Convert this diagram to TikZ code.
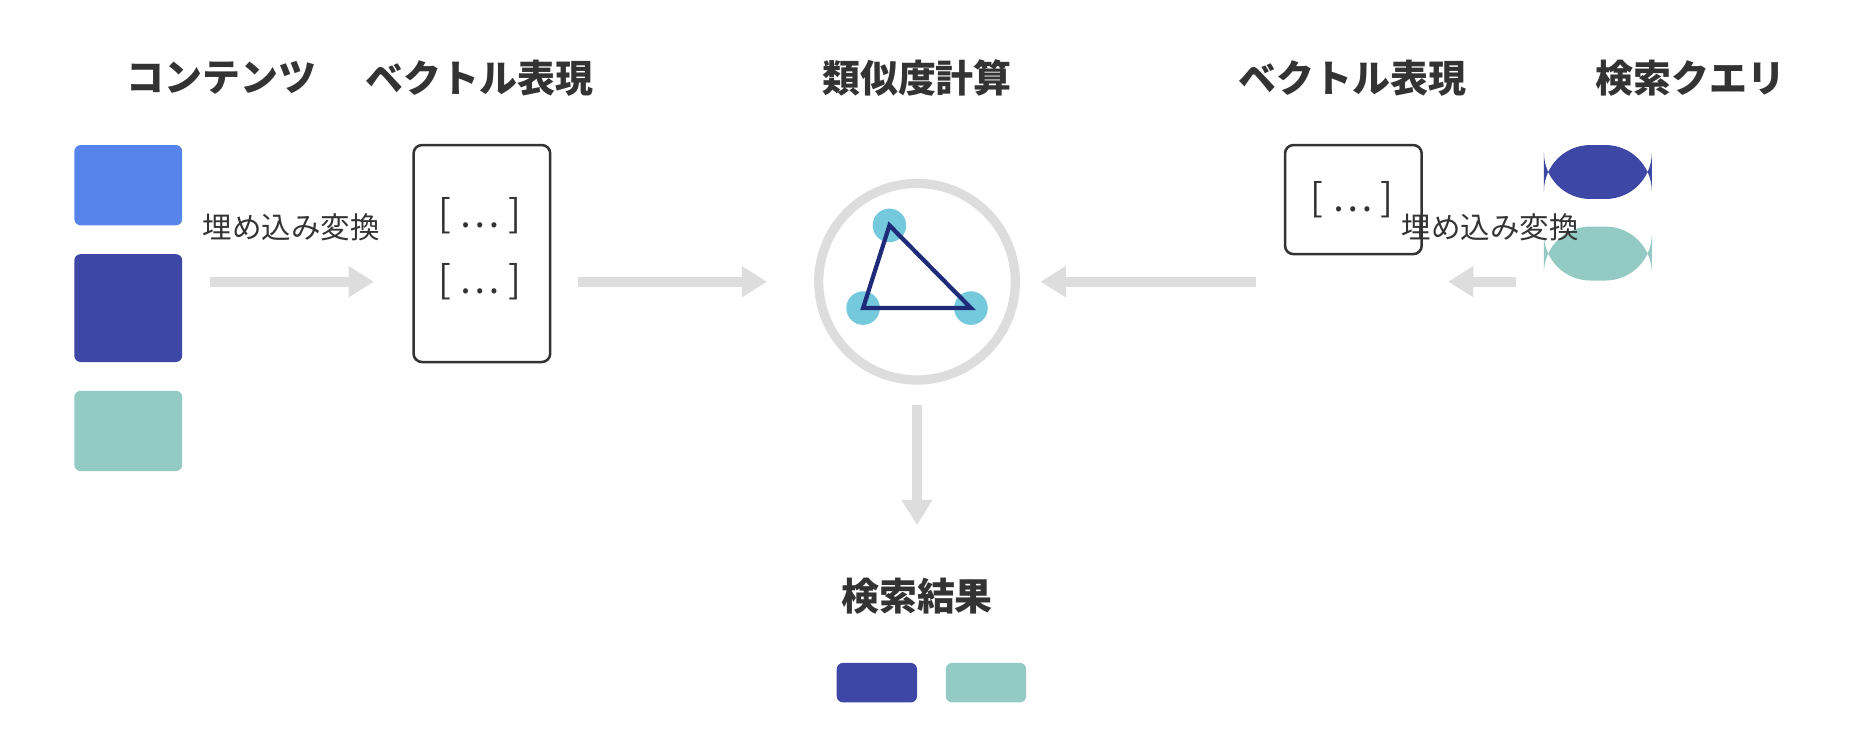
\documentclass[tikz,border=0pt]{standalone}
\usepackage{fontspec}
\setmainfont{Noto Sans CJK JP}
\usetikzlibrary{positioning, arrows.meta}
\definecolor{cblue}{HTML}{5684EA}
\definecolor{cnavy}{HTML}{3D47A5}
\definecolor{cteal}{HTML}{94CAC4}
\definecolor{ccyan}{HTML}{74C9DD}
\definecolor{cline}{HTML}{1F2A78}
\definecolor{cgray}{HTML}{DDDDDD}
\definecolor{ctext}{HTML}{333333}

\begin{document}
\begin{tikzpicture}[x=0.01cm, y=-0.01cm,
    title/.style={font=\fontsize{9}{11}\selectfont\bfseries, text=ctext},
    label/.style={font=\fontsize{7}{9}\selectfont, text=ctext},
    block/.style={draw=none, rounded corners=1.5pt},
    vecbox/.style={draw=ctext, line width=0.6pt, rounded corners=2pt, fill=white},
    flow/.style={draw=cgray, line width=2.4pt, -{Triangle[length=6pt, width=7pt]}},
    dot/.style={circle, fill=ccyan, minimum size=0.28cm, inner sep=0pt}
]
\useasboundingbox (0,0) rectangle (1560,630);

% Titles
\node[title] (t1) at (185,65) {コンテンツ};
\node[title] (t2) at (400,65) {ベクトル表現};
\node[title] (t3) at (765,65) {類似度計算};
\node[title] (t4) at (1128,65) {ベクトル表現};
\node[title] (t5) at (1410,65) {検索クエリ};

% Contents
\fill[block, cblue] (62,121) rectangle (152,188);
\fill[block, cnavy] (62,212) rectangle (152,302);
\fill[block, cteal] (62,326) rectangle (152,393);

% Left vector
\draw[vecbox] (345,121) rectangle (459,302);
\node[label, font=\fontsize{9}{11}\selectfont] (v1) at (400,180) {[ … ]};
\node[label, font=\fontsize{9}{11}\selectfont] (v2) at (400,235) {[ … ]};

\coordinate (a1s) at (175,235);
\coordinate (a1e) at (312,235);
\draw[flow] (a1s) -- (a1e);
\node[label] (e1) at (243,190) {埋め込み変換};
\coordinate (a2s) at (482,235);
\coordinate (a2e) at (640,235);
\draw[flow] (a2s) -- (a2e);

% Similarity
\draw[cgray, line width=2.2pt] (765,235) circle (82);
\node[dot] (d1) at (742,188) {};
\node[dot] (d2) at (720,257) {};
\node[dot] (d3) at (810,257) {};
\draw[cline, line width=1pt] (d1.center) -- (d2.center) -- (d3.center) -- cycle;

\coordinate (a3s) at (765,338);
\coordinate (a3e) at (765,438);
\draw[flow] (a3s) -- (a3e);

% Result
\node[title] (t6) at (765,497) {検索結果};
\fill[block, cnavy] (698,553) rectangle (765,586);
\fill[block, cteal] (789,553) rectangle (856,586);

% Right side
\coordinate (a4s) at (1048,235);
\coordinate (a4e) at (868,235);
\draw[flow] (a4s) -- (a4e);
\draw[vecbox] (1072,121) rectangle (1186,212);
\node[label, font=\fontsize{9}{11}\selectfont] (v3) at (1128,167) {[ … ]};
\fill[cnavy, rounded corners=11pt] (1288,121) rectangle (1378,166);
\fill[cteal, rounded corners=11pt] (1288,189) rectangle (1378,234);
\node[label] (e2) at (1243,190) {埋め込み変換};
\coordinate (a5s) at (1265,235);
\coordinate (a5e) at (1208,235);
\draw[flow] (a5s) -- (a5e);
\end{tikzpicture}
\end{document}
